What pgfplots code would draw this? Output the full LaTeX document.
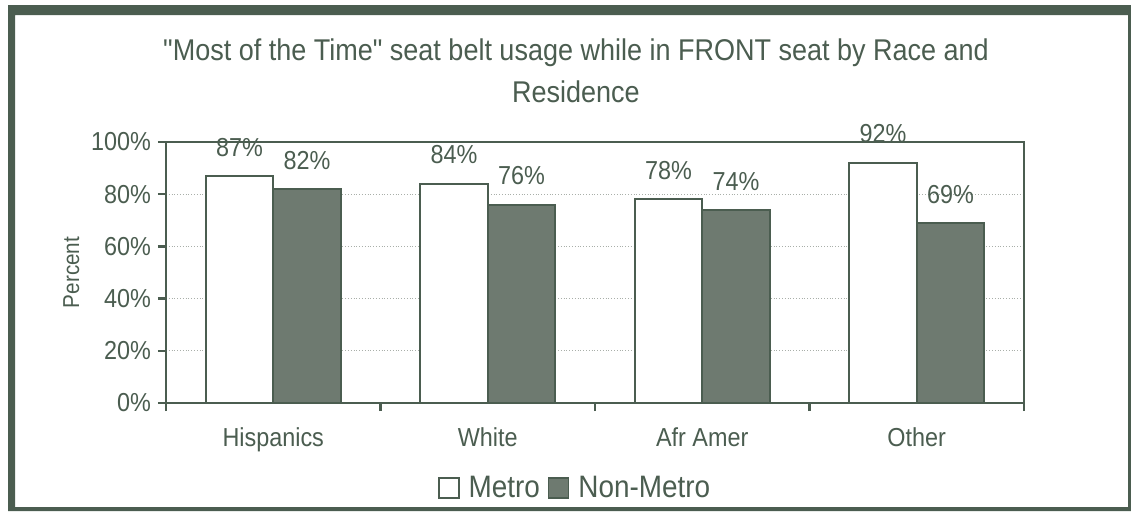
\documentclass[border=0pt]{standalone}
\usepackage{pgfplots}
\pgfplotsset{compat=1.18}
\usepackage{fontspec}
\setmainfont{Liberation Sans}[FakeStretch=0.9, Ligatures=TeXOff]
\definecolor{ink}{HTML}{4B5D50}
\definecolor{nonmetro}{HTML}{6E7A70}
\definecolor{gridc}{HTML}{A9AFA9}

\begin{document}
\begin{tikzpicture}
% page area and frame (1px = 0.5pt, origin top-left)
\path[use as bounding box, fill=white] (0,0) rectangle (565.5pt,-255.5pt);
\fill[ink, even odd rule] (4pt,-2.5pt) rectangle (565.5pt,-255.5pt)
                          (7.5pt,-7.5pt) rectangle (564pt,-253.5pt);

\node[ink, align=center, font=\fontsize{15}{21}\selectfont] at (288pt,-35.5pt)
  {"Most of the Time" seat belt usage while in FRONT seat by Race and\\Residence};

\begin{axis}[
  at={(83pt,-201.5pt)}, anchor=south west,
  scale only axis, width=429pt, height=130.5pt,
  ybar=0pt, bar width=33.75pt,
  xmin=-0.5, xmax=3.5, ymin=0, ymax=100,
  axis line style={ink, line width=1.2pt},
  xtick={-0.5,0.5,1.5,2.5,3.5}, xticklabels={},
  extra x ticks={0,1,2,3},
  extra x tick labels={Hispanics,White,Afr Amer,Other},
  extra x tick style={major tick length=0pt, grid=none},
  ytick={0,20,...,100},
  yticklabel={\pgfmathprintnumber{\tick}\%},
  /pgf/number format/assume math mode=true,
  tick align=outside, tick pos=left,
  major tick length=4pt,
  tick style={ink, line width=1.2pt},
  xticklabel style={yshift=-9pt},
  ymajorgrids, grid style={gridc, densely dotted, line width=0.6pt},
  ticklabel style={font=\fontsize{13}{15}\selectfont, text=ink},
  ylabel={Percent}, ylabel style={font=\fontsize{11.5}{13}\selectfont, text=ink, yshift=-1pt},
  nodes near coords={\pgfmathprintnumber{\pgfplotspointmeta}\%},
  every node near coord/.append style={font=\fontsize{13}{15}\selectfont, text=ink, anchor=south, yshift=6pt},
  legend style={at={(0.478,-0.326)}, anchor=center, draw=none, fill=none,
    font=\fontsize{15.5}{17}\selectfont, text=ink, legend columns=-1,
    /tikz/every odd column/.append style={column sep=2.5pt},
    /tikz/every even column/.append style={column sep=2pt}},
  legend image code/.code={\draw[#1, line width=0.8pt] (0pt,-5pt) rectangle (10pt,5pt);},
]
\addplot[draw=ink, fill=white, line width=1pt] coordinates {(0,87) (1,84) (2,78) (3,92)};
\addplot[draw=ink, fill=nonmetro, line width=1pt] coordinates {(0,82) (1,76) (2,74) (3,69)};
\legend{Metro, Non-Metro}
\end{axis}
\end{tikzpicture}
\end{document}
